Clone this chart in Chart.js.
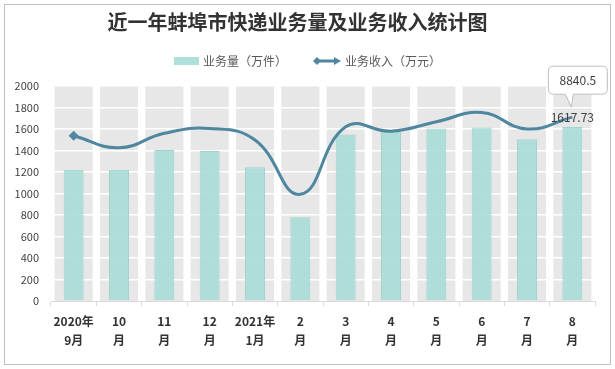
<!DOCTYPE html>
<html>
<head>
<meta charset="utf-8">
<script src="https://cdn.jsdelivr.net/npm/chart.js@4.4.0/dist/chart.umd.min.js"></script>
<style>
  html, body { margin: 0; padding: 0; background: #fff; }
  #wrap { position: relative; width: 615px; height: 369px; }
</style>
</head>
<body>
<div id="wrap"><canvas id="chart" width="615" height="369"></canvas></div>
<script>
// --- data ---
const months = [
  ['2020年', '9月'], ['10', '月'], ['11', '月'], ['12', '月'],
  ['2021年', '1月'], ['2', '月'], ['3', '月'], ['4', '月'],
  ['5', '月'], ['6', '月'], ['7', '月'], ['8', '月']
];
const volume = [1220, 1220, 1405, 1395, 1245, 780, 1550, 1575, 1605, 1615, 1505, 1617.73];
const revenue = [8150, 7700, 8240, 8420, 7990, 5970, 8480, 8320, 8670, 9010, 8400, 8840.5];
const volumeLabel = '业务量（万件）';
const revenueLabel = '业务收入（万元）';

const FONT = '"Noto Sans CJK SC", "Noto Sans", sans-serif';
const barFill = 'rgba(168, 219, 214, 0.9)';
const barEdge = '#9ed3ce';
const lineColor = '#4f87a0';

// --- background bands, frame ---
const bgPlugin = {
  id: 'bg',
  beforeDraw(chart) {
    const { ctx, chartArea, scales } = chart;
    ctx.save();
    ctx.fillStyle = '#fff';
    ctx.fillRect(0, 0, chart.width, chart.height);
    ctx.strokeStyle = '#bfbfbf';
    ctx.lineWidth = 1;
    ctx.strokeRect(4.5, 4.5, chart.width - 9, chart.height - 9);
    const x = scales.x;
    const step = x.getPixelForValue(1) - x.getPixelForValue(0);
    const w = step * 0.84;
    ctx.fillStyle = '#e7e7e7';
    months.forEach((m, i) => {
      const cx = x.getPixelForValue(i);
      ctx.fillRect(cx - w / 2, chartArea.top, w, chartArea.bottom - chartArea.top);
    });
    ctx.restore();
  }
};

// --- legend drawn by hand (line swatch with diamond / arrow) ---
const legendPlugin = {
  id: 'myLegend',
  afterDraw(chart) {
    const { ctx } = chart;
    ctx.save();
    ctx.font = '12px ' + FONT;
    ctx.textBaseline = 'middle';
    const t1 = ctx.measureText(volumeLabel).width;
    const t2 = ctx.measureText(revenueLabel).width;
    const sw = 25, gap = 4, itemGap = 26;
    const total = sw + gap + t1 + itemGap + 28 + gap + t2;
    let x = chart.width / 2 - total / 2;
    const y = 61;
    ctx.fillStyle = barFill;
    ctx.fillRect(x, y - 4, sw, 8);
    ctx.fillStyle = '#595959';
    ctx.fillText(volumeLabel, x + sw + gap, y);
    x += sw + gap + t1 + itemGap;
    // line swatch
    ctx.strokeStyle = lineColor;
    ctx.fillStyle = lineColor;
    ctx.lineWidth = 3;
    ctx.beginPath();
    ctx.moveTo(x + 3, y);
    ctx.lineTo(x + 24, y);
    ctx.stroke();
    ctx.beginPath();
    ctx.moveTo(x, y); ctx.lineTo(x + 4, y - 4); ctx.lineTo(x + 8, y); ctx.lineTo(x + 4, y + 4);
    ctx.closePath(); ctx.fill();
    ctx.beginPath();
    ctx.moveTo(x + 28, y); ctx.lineTo(x + 21, y - 4); ctx.lineTo(x + 21, y + 4);
    ctx.closePath(); ctx.fill();
    ctx.fillStyle = '#595959';
    ctx.fillText(revenueLabel, x + 28 + gap, y);
    ctx.restore();
  }
};

// --- last point labels + callout ---
const labelPlugin = {
  id: 'labels',
  afterDatasetsDraw(chart) {
    const { ctx } = chart;
    const meta = chart.getDatasetMeta(0);
    const last = meta.data[meta.data.length - 1];
    const px = last.x, py = last.y;
    ctx.save();
    ctx.font = '12px ' + FONT;
    ctx.fillStyle = '#404040';
    ctx.textAlign = 'center';
    ctx.textBaseline = 'middle';
    ctx.fillText(String(volume[volume.length - 1]), px, py);

    const l = px - 24, r = px + 35, t = py - 51, b = py - 23, rad = 5;
    ctx.beginPath();
    ctx.moveTo(l + rad, t);
    ctx.lineTo(r - rad, t); ctx.quadraticCurveTo(r, t, r, t + rad);
    ctx.lineTo(r, b - rad); ctx.quadraticCurveTo(r, b, r - rad, b);
    ctx.lineTo(px + 1, b);
    ctx.lineTo(px - 1, py - 10);
    ctx.lineTo(px - 7, b);
    ctx.lineTo(l + rad, b); ctx.quadraticCurveTo(l, b, l, b - rad);
    ctx.lineTo(l, t + rad); ctx.quadraticCurveTo(l, t, l + rad, t);
    ctx.closePath();
    ctx.fillStyle = '#fff';
    ctx.fill();
    ctx.strokeStyle = '#bfbfbf';
    ctx.lineWidth = 1;
    ctx.stroke();
    ctx.fillStyle = '#404040';
    ctx.fillText(String(revenue[revenue.length - 1]), (l + r) / 2, (t + b) / 2);
    ctx.restore();
  }
};

const pointRadii = revenue.map((v, i) => (i === 0 ? 5 : 0));

new Chart(document.getElementById('chart'), {
  type: 'bar',
  data: {
    labels: months,
    datasets: [
      {
        type: 'line',
        label: revenueLabel,
        data: revenue,
        yAxisID: 'y1',
        borderColor: lineColor,
        backgroundColor: lineColor,
        borderWidth: 3,
        tension: 0.45,
        pointStyle: 'rectRot',
        pointRadius: pointRadii,
        pointBackgroundColor: lineColor,
        pointBorderWidth: 0,
        order: 0
      },
      {
        label: volumeLabel,
        data: volume,
        yAxisID: 'y',
        backgroundColor: barFill,
        borderColor: barEdge,
        borderWidth: 1,
        barPercentage: 0.44,
        categoryPercentage: 1,
        order: 1
      }
    ]
  },
  options: {
    responsive: false,
    animation: false,
    devicePixelRatio: 1,
    layout: { padding: { left: 0, right: 20, top: 0, bottom: 0 } },
    plugins: {
      legend: { display: false },
      tooltip: { enabled: false },
      title: {
        display: true,
        text: '近一年蚌埠市快递业务量及业务收入统计图',
        color: '#333333',
        font: { family: FONT, size: 20, weight: 'bold', lineHeight: 1.2 },
        padding: { top: 10, bottom: 52 }
      }
    },
    scales: {
      x: {
        grid: { drawOnChartArea: false, drawTicks: true, tickLength: 5, color: '#d9d9d9' },
        border: { display: true, color: '#d9d9d9' },
        ticks: {
          color: '#333333',
          padding: 6,
          maxRotation: 0,
          autoSkip: false,
          font: { family: FONT, size: 12, weight: 'bold', lineHeight: 1.6 }
        },
        afterFit(scale) { scale.height = 68; }
      },
      y: {
        min: 0,
        max: 2000,
        grid: {
          drawTicks: false,
          lineWidth: 1.5,
          color: ctx => (ctx.tick && ctx.tick.value === 0 ? 'rgba(0,0,0,0)' : '#ffffff')
        },
        border: { display: false },
        ticks: {
          stepSize: 200,
          padding: 12,
          color: '#404040',
          font: { family: FONT, size: 11 },
          callback: value => String(value)
        },
        afterFit(scale) { scale.width = 51; }
      },
      y1: {
        display: false,
        min: 2000,
        max: 10000
      }
    }
  },
  plugins: [bgPlugin, legendPlugin, labelPlugin]
});
</script>
</body>
</html>
